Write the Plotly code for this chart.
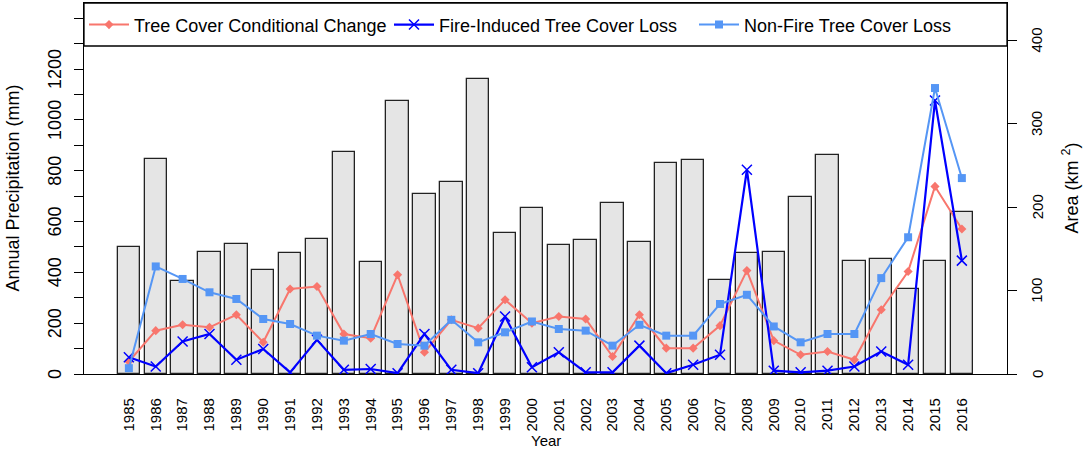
import plotly.graph_objs as go

years = list(range(1985, 2017))
precip_mm = [500, 846, 366, 481, 513, 409, 475, 533, 873, 441, 1076, 709, 755, 1159, 555, 655,
             508, 526, 671, 520, 831, 843, 370, 478, 481, 698, 862, 444, 453, 333, 446, 639]
cond_change = [15, 52, 59, 56, 71, 38, 102, 105, 48, 43, 119, 26, 65, 55, 89, 61,
               69, 66, 21, 71, 31, 31, 58, 124, 40, 23, 27, 17, 77, 123, 225, 174]
fire_loss = [20, 9, 39, 48, 17, 30, 2, 41, 5, 6, 1, 48, 5, 1, 69, 8,
             26, 2, 2, 34, 1, 11, 23, 245, 4, 2, 4, 9, 27, 11, 328, 136]
nonfire_loss = [7, 129, 114, 98, 90, 66, 60, 46, 40, 48, 36, 34, 65, 38, 50, 63,
                54, 52, 34, 59, 46, 46, 84, 95, 57, 38, 48, 48, 115, 164, 343, 235]

left_ticks = list(range(0, 1500, 100))
left_labels = [0, 200, 400, 600, 800, 1000, 1200]
right_ticks = [0, 100, 200, 300, 400]

font = 'Liberation Sans, Arial, sans-serif'

fig = go.Figure()
fig.add_trace(go.Bar(x=years, y=precip_mm, width=0.833, marker_color='#e5e5e5',
                     marker_line_color='#222222', marker_line_width=1.3, showlegend=False))
fig.add_trace(go.Scatter(x=years, y=cond_change, yaxis='y2', name='Tree Cover Conditional Change',
                         mode='lines+markers', line=dict(color='#F8766D', width=2),
                         marker=dict(symbol='diamond', size=7, color='#F8766D')))
fig.add_trace(go.Scatter(x=years, y=fire_loss, yaxis='y2', name='Fire-Induced Tree Cover Loss',
                         mode='lines+markers', line=dict(color='#0000FF', width=2.2),
                         marker=dict(symbol='x-thin-open', size=10, line=dict(color='#0000FF', width=1.5))))
fig.add_trace(go.Scatter(x=years, y=nonfire_loss, yaxis='y2', name='Non-Fire Tree Cover Loss',
                         mode='lines+markers', line=dict(color='#5596F5', width=2),
                         marker=dict(symbol='square', size=8, color='#5596F5')))

# rotated tick labels as annotations (tickangle on y axes did not rotate)
annotations = []
for v in left_labels:
    annotations.append(dict(text=str(v), xref='paper', x=0, xshift=-29, yref='y', y=v,
                            xanchor='center', yanchor='middle',
                            textangle=-90, showarrow=False, font=dict(size=18)))
for v in right_ticks:
    annotations.append(dict(text=str(v), xref='paper', x=1, xshift=30, yref='y2', y=v,
                            xanchor='center', yanchor='middle',
                            textangle=-90, showarrow=False, font=dict(size=15)))
annotations += [
    dict(text='Annual Precipitation (mm)', xref='paper', yref='paper', x=0, y=0.5,
         xshift=-72, xanchor='center', yanchor='middle', textangle=-90,
         showarrow=False, font=dict(size=18)),
    dict(text='Area (km <sup>2</sup>)', xref='paper', yref='paper', x=1, y=0.5,
         xshift=64, xanchor='center', yanchor='middle', textangle=-90,
         showarrow=False, font=dict(size=18)),
    dict(text='Year', xref='paper', yref='paper', x=0.5, y=0, yshift=-66,
         xanchor='center', yanchor='middle', showarrow=False, font=dict(size=15)),
]

fig.update_layout(
    width=1084, height=452,
    margin=dict(l=84, r=77, t=3, b=78, autoexpand=False),
    plot_bgcolor='white', paper_bgcolor='white',
    font=dict(family=font, color='black'),
    bargap=0,
    xaxis=dict(
        range=[1983.33, 2017.68], tickvals=years, ticktext=[str(y) for y in years],
        tickangle=-90, ticks='', ticklabelstandoff=17, tickfont=dict(size=15),
        showline=True, linecolor='black', linewidth=1.3, mirror=True,
        showgrid=False, zeroline=False, automargin=False,
    ),
    yaxis=dict(
        range=[0, 1460], tickvals=left_ticks, showticklabels=False,
        ticks='outside', ticklen=9, tickcolor='black', tickwidth=1,
        showline=True, linecolor='black', linewidth=1.3,
        showgrid=False, zeroline=False, automargin=False,
    ),
    yaxis2=dict(
        range=[0, 445], overlaying='y', side='right', tickvals=right_ticks,
        showticklabels=False, ticks='outside', ticklen=9, tickcolor='black', tickwidth=1,
        showline=True, linecolor='black', linewidth=1.3,
        showgrid=False, zeroline=False, automargin=False,
    ),
    legend=dict(
        orientation='h', x=0, xanchor='left', y=0.941, yanchor='middle',
        font=dict(size=18), entrywidth=250, entrywidthmode='pixels',
        bgcolor='rgba(0,0,0,0)', itemwidth=40,
    ),
    shapes=[dict(type='rect', xref='paper', yref='paper', x0=0, x1=1,
                 y0=(374 - 46) / 371, y1=1, line=dict(color='black', width=1.3),
                 fillcolor='white', layer='below')],
    annotations=annotations,
)

fig.write_html("out.html", config={'displayModeBar': False},
               post_script="document.body.style.margin='0';")
